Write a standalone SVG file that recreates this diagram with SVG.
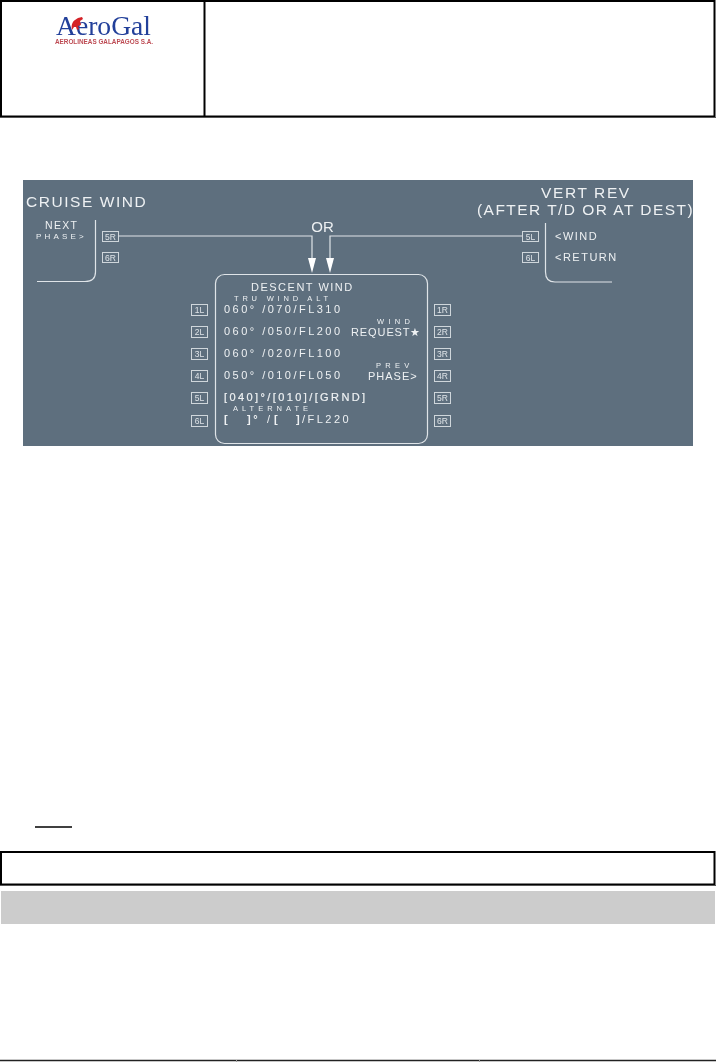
<svg xmlns="http://www.w3.org/2000/svg" width="716" height="1062" viewBox="0 0 716 1062">
<style>
text{font-family:"Liberation Sans",Arial,sans-serif;fill:#eef1f3}
.k rect{fill:none;stroke:#cfd6db;stroke-width:1}
.k text{font-size:8.500px;text-anchor:middle;fill:#dfe4e8}
.l{fill:none;stroke:#dfe4e8;stroke-width:1.200}
.h{font-size:15.500px}
.r{font-size:11px;letter-spacing:2.470px}
.s{font-size:8px}
.b{stroke:#000;fill:none;stroke-width:2}
</style>
<defs>
<marker id="ah" markerWidth="15" markerHeight="8" refX="0" refY="4" orient="auto" markerUnits="userSpaceOnUse" viewBox="0 0 15 8"><path d="M0 0V8L15 4Z" fill="#fff"/></marker>
<filter id="soft" x="-2%" y="-2%" width="104%" height="104%"><feGaussianBlur stdDeviation="0.350"/></filter>
</defs>
<rect width="716" height="1062" fill="#fff"/>
<g id="header">
<rect class="b" x="1" y="1" width="713.500" height="115.500"/>
<path class="b" d="M204.500 1V116.500"/>
<path d="M0 117.500H716" stroke="#555" stroke-width="1"/>
</g>
<g id="logo" filter="url(#soft)">
<text x="56" y="35" style="font-family:'Liberation Serif',serif;font-size:28px;fill:#24409a" textLength="95" lengthAdjust="spacingAndGlyphs">AeroGal</text>
<path d="M72 30c-1-4 0-8 3-10l3-2 4-1 1 2-3 2 1 4-3 1 1 3-2 1-1-3-2 0z" fill="#d42027"/>
<text x="55" y="44" style="font-size:6.500px;font-weight:bold;fill:#bd4a52" textLength="98" lengthAdjust="spacingAndGlyphs">AEROLINEAS GALAPAGOS S.A.</text>
</g>
<rect id="panel" x="23" y="180" width="670" height="266" fill="#5e6f7e"/>
<g filter="url(#soft)">
<g id="cruise-wind">
<text x="26" y="207" class="h" style="letter-spacing:1.550px">CRUISE WIND</text>
<text x="45" y="229" style="font-size:10.500px;letter-spacing:1.300px">NEXT</text>
<text x="36" y="239" style="font-size:8px;letter-spacing:3.200px">PHASE&gt;</text>
<path class="l" d="M95.500 220V272Q95.500 281.500 85 281.500H37"/>
<g class="k"><rect x="102.500" y="231.500" width="16" height="10"/><text x="110.500" y="239.500">5R</text><rect x="102.500" y="252.500" width="16" height="10"/><text x="110.500" y="260.500">6R</text></g>
</g>
<g id="vert-rev">
<text x="541" y="198" class="h" style="letter-spacing:1.600px">VERT REV</text>
<text x="477" y="214.500" class="h" style="letter-spacing:1.450px">(AFTER T/D OR AT DEST)</text>
<text x="555" y="240" style="font-size:11px;letter-spacing:1.500px">&lt;WIND</text>
<text x="555" y="261" style="font-size:11px;letter-spacing:1.500px">&lt;RETURN</text>
<path class="l" d="M545.500 223V272Q545.500 282 555 282H612"/>
<g class="k"><rect x="522.500" y="231.500" width="16" height="10"/><text x="530.500" y="239.500">5L</text><rect x="522.500" y="252.500" width="16" height="10"/><text x="530.500" y="260.500">6L</text></g>
</g>
<g id="connectors">
<path class="l" d="M118.500 236H312V258" marker-end="url(#ah)"/>
<path class="l" d="M522.500 236H330V258" marker-end="url(#ah)"/>
<text x="322.500" y="231.500" text-anchor="middle" style="font-size:15px">OR</text>
</g>
<g id="descent-wind">
<rect class="l" x="215.500" y="274.500" width="212" height="169" rx="9"/>
<text x="251" y="291" style="font-size:11px;letter-spacing:1.500px">DESCENT WIND</text>
<text x="234" y="301" style="font-size:7.500px;letter-spacing:3.800px">TRU WIND ALT</text>
<text class="r" x="224" y="313">060° /070/FL310</text>
<text class="r" x="224" y="335">060° /050/FL200</text>
<text class="r" x="224" y="357">060° /020/FL100</text>
<text class="r" x="224" y="379">050° /010/FL050</text>
<text class="r" x="224" y="401" style="letter-spacing:2.400px;stroke:#eef1f3;stroke-width:.2">[040]°/[010]/[GRND]</text>
<text class="r" y="423"><tspan x="224" style="font-weight:bold">[</tspan><tspan x="247" style="font-weight:bold">]°</tspan><tspan x="267">/</tspan><tspan x="274" style="font-weight:bold">[</tspan><tspan x="296" style="font-weight:bold">]</tspan><tspan x="302">/FL220</tspan></text>
<text x="233" y="411" style="font-size:7.500px;letter-spacing:4px">ALTERNATE</text>
<text x="377" y="323.500" style="font-size:7.500px;letter-spacing:4.300px">WIND</text>
<text x="351" y="336" style="font-size:11px;letter-spacing:.9px">REQUEST★</text>
<text x="376" y="368" style="font-size:7.500px;letter-spacing:4.300px">PREV</text>
<text x="368" y="380" style="font-size:11px;letter-spacing:1px">PHASE&gt;</text>
<g class="k">
<rect x="191.500" y="304.500" width="16" height="11"/><text x="199.500" y="313">1L</text>
<rect x="191.500" y="326.500" width="16" height="11"/><text x="199.500" y="335">2L</text>
<rect x="191.500" y="348.500" width="16" height="11"/><text x="199.500" y="357">3L</text>
<rect x="191.500" y="370.500" width="16" height="11"/><text x="199.500" y="379">4L</text>
<rect x="191.500" y="392.500" width="16" height="11"/><text x="199.500" y="401">5L</text>
<rect x="191.500" y="415.500" width="16" height="11"/><text x="199.500" y="424">6L</text>
<rect x="434.500" y="304.500" width="16" height="11"/><text x="442.500" y="313">1R</text>
<rect x="434.500" y="326.500" width="16" height="11"/><text x="442.500" y="335">2R</text>
<rect x="434.500" y="348.500" width="16" height="11"/><text x="442.500" y="357">3R</text>
<rect x="434.500" y="370.500" width="16" height="11"/><text x="442.500" y="379">4R</text>
<rect x="434.500" y="392.500" width="16" height="11"/><text x="442.500" y="401">5R</text>
<rect x="434.500" y="415.500" width="16" height="11"/><text x="442.500" y="424">6R</text>
</g>
</g>
</g>
<g id="footer">
<path d="M35 827H72" stroke="#000" stroke-width="1.500"/>
<rect class="b" x="1" y="852" width="713.500" height="32.500"/>
<path d="M0 885.500H716" stroke="#555" stroke-width="1"/>
<rect x="1" y="891" width="714" height="33" fill="#ccc"/>
<path d="M0 1060.500H716" stroke="#222" stroke-width="1.500"/>
<path d="M236.500 1060V1062M479.500 1060V1062" stroke="#999" stroke-width="1"/>
</g>
</svg>
